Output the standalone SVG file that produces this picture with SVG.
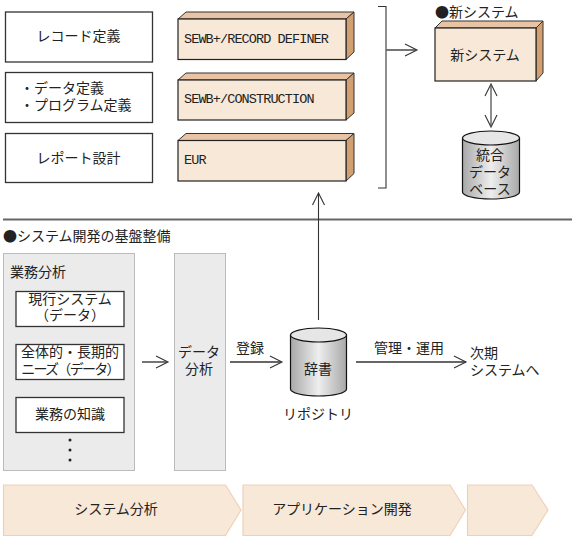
<svg xmlns="http://www.w3.org/2000/svg" width="575" height="539" viewBox="0 0 575 539">
<style>
text{font-family:"Noto Sans CJK JP","Liberation Sans",sans-serif;font-size:14px;fill:#222}
.m{text-anchor:middle}
.mono{font-family:"Liberation Mono","DejaVu Sans Mono",monospace;font-size:13.5px;letter-spacing:-.9px}
.box{fill:#fff;stroke:#333;stroke-width:1.3}
.front{fill:#f7e8d8;stroke:#222;stroke-width:1.2}
.top{fill:#e8c4a4;stroke:#333;stroke-width:1}
.side{fill:#d2a070;stroke:#333;stroke-width:1}
.panel{fill:#ebebeb;stroke:#bbb;stroke-width:1}
.stage{fill:#f7e8d8;stroke:#eed2b8;stroke-width:1.2}
.cyl{fill:url(#g);stroke:#111;stroke-width:1.2}
.cap{fill:#e6e6e6;stroke:#111;stroke-width:1.2}
.ln{fill:none;stroke:#333;stroke-width:1.1}
.gr{fill:none;stroke:#666;stroke-width:1.8}
.hd{fill:none;stroke:#333;stroke-width:1.1}
</style>
<defs>
<linearGradient id="g" x1="0" x2="1" y1="0" y2="0">
<stop offset="0" stop-color="#a8a8a8"/><stop offset=".5" stop-color="#eeeeee"/><stop offset="1" stop-color="#a8a8a8"/>
</linearGradient>
</defs>

<g id="node-record"><rect class="box" x="5.5" y="12" width="147" height="50"/><text class="m" x="78.500" y="40.500">レコード定義</text></g>
<g id="node-data"><rect class="box" x="5.5" y="72.5" width="147" height="50"/><text x="20" y="93">・データ定義<tspan x="20" dy="17">・プログラム定義</tspan></text></g>
<g id="node-report"><rect class="box" x="5.5" y="133.5" width="147" height="49"/><text class="m" x="78.500" y="162.500">レポート設計</text></g>

<g id="node-sewb1"><path class="top" d="M178 19l8-7h168l-8 7z"/><path class="side" d="M346 19l8-7v40l-8 7.500z"/><rect class="front" x="178" y="19" width="168" height="40.500"/><text class="mono" x="184" y="43">SEWB+/RECORD DEFINER</text></g>
<g id="node-sewb2"><path class="top" d="M178 80l8-7h168l-8 7z"/><path class="side" d="M346 80l8-7v40l-8 7z"/><rect class="front" x="178" y="80" width="168" height="40"/><text class="mono" x="184" y="103">SEWB+/CONSTRUCTION</text></g>
<g id="node-eur"><path class="top" d="M178 140.500l8-7h168l-8 7z"/><path class="side" d="M346 140.500l8-7v40l-8 7.500z"/><rect class="front" x="178" y="140.500" width="168" height="40.500"/><text class="mono" x="184" y="164">EUR</text></g>

<text x="435" y="17">●新システム</text>
<g id="node-new"><path class="top" d="M435 28l7-7h101l-7 7z"/><path class="side" d="M536 28l7-7v52l-7 8z"/><rect class="front" x="435" y="28" width="101" height="53"/><text class="m" x="485" y="60">新システム</text></g>

<g id="node-db"><path class="cyl" d="M462.500 138v54c0 4 13 7 28.500 7s28.500-3 28.500-7v-54z"/><ellipse class="cap" cx="491" cy="138" rx="28.500" ry="7"/><text class="m" x="490" y="160">統合<tspan x="490" dy="17">データ</tspan><tspan x="490" dy="17">ベース</tspan></text></g>

<text x="3" y="241">●システム開発の基盤整備</text>
<g id="node-analysis"><rect class="panel" x="3.500" y="253.500" width="131" height="217"/><text x="10" y="277">業務分析</text>
<rect class="box" x="16" y="291.500" width="108" height="35"/><text class="m" x="70" y="304">現行システム<tspan x="70" dy="16">（データ）</tspan></text>
<rect class="box" x="16" y="344.500" width="108" height="35"/><text class="m" x="70" y="357">全体的・長期的<tspan x="70" dy="17" letter-spacing="-1.7">ニーズ（データ）</tspan></text>
<rect class="box" x="16" y="397.500" width="108" height="35"/><text class="m" x="70" y="419">業務の知識</text>
<circle cx="70" cy="440" r="1.500" fill="#222"/><circle cx="70" cy="450" r="1.500" fill="#222"/><circle cx="70" cy="460" r="1.500" fill="#222"/></g>
<g id="node-dataanalysis"><rect class="panel" x="174.500" y="253.500" width="51" height="217"/><text class="m" x="199" y="357">データ<tspan x="199" dy="17">分析</tspan></text></g>

<g id="node-dict"><path class="cyl" d="M290.500 335v54c0 4 13 7 28 7s28-3 28-7v-54z"/><ellipse class="cap" cx="318.500" cy="335" rx="28" ry="7"/><text class="m" x="318" y="374">辞書</text></g>
<text class="m" x="318" y="419">リポジトリ</text>
<text x="236" y="353">登録</text>
<text x="374" y="353">管理・運用</text>
<text x="470" y="358">次期<tspan x="470" dy="17">システムへ</tspan></text>

<g id="connectors">
<path class="ln" d="M378 6.500h8v181.500h-8"/>
<path class="gr" d="M386 50h30"/><path class="hd" d="M405 44l12 6-12 6"/>
<path class="ln" d="M491 86v39"/><path class="hd" d="M485 96l6-12 6 12M485 115l6 12 6-12"/>
<path class="gr" d="M3 219.500h569"/>
<path class="ln" d="M318.500 320v-127"/><path class="hd" d="M312.500 205l6-12 6 12"/>
<path class="gr" d="M142 362h25"/><path class="hd" d="M156 356l12 6-12 6"/>
<path class="gr" d="M230 362h51"/><path class="hd" d="M270 356l12 6-12 6"/>
<path class="gr" d="M356 362h110"/><path class="hd" d="M454 356l12 6-12 6"/>
</g>

<g id="node-stage1"><path class="stage" d="M3.500 485h222l15.500 25-15.500 25.500h-222z"/><text class="m" x="116" y="514">システム分析</text></g>
<g id="node-stage2"><path class="stage" d="M243 485h207l15.500 25-15.500 25.500h-207z"/><text class="m" x="342" y="514">アプリケーション開発</text></g>
<g id="node-stage3"><path class="stage" d="M467.500 485h64.500l16 25-16 25.500h-64.500z"/></g>
</svg>
